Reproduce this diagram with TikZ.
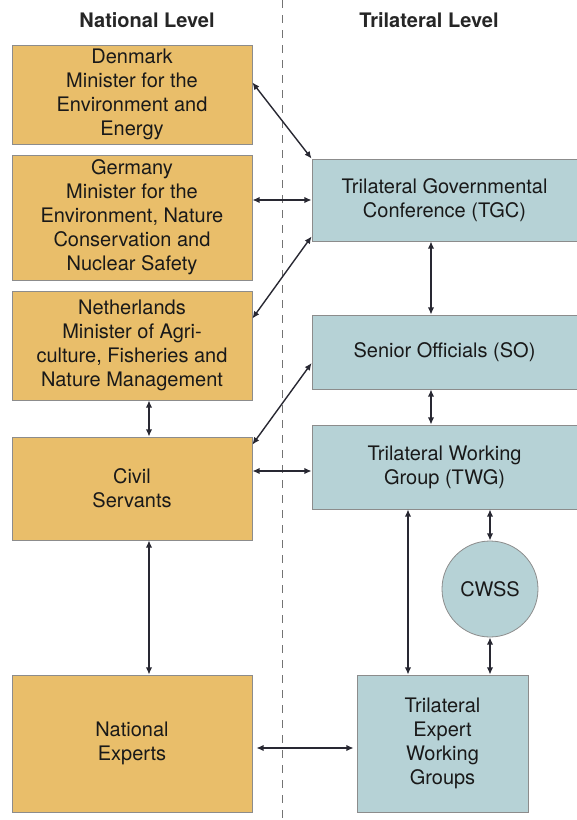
\documentclass[tikz,border=0pt]{standalone}
\usepackage{fontspec}
\setmainfont{TeX Gyre Heros}
\usepackage{tikz}
\usetikzlibrary{arrows.meta,calc}
\usepackage{xcolor}
\definecolor{natfill}{RGB}{233,190,106}
\definecolor{trifill}{RGB}{182,210,214}
\definecolor{linkgray}{RGB}{40,40,50}

\begin{document}
\begin{tikzpicture}[x=0.5pt, y=-0.5pt,
        box/.style = {draw=black!45, line width=0.4pt, align=center, inner sep=0pt,
            font=\fontsize{10}{12}\selectfont, text=black!90},
        natbox/.style = {box, fill=natfill, minimum width=120pt},
        tribox/.style = {box, fill=trifill},
        head/.style = {font=\fontsize{10}{12}\selectfont\bfseries, text=black!85},
        link/.style = {{Latex[length=3.6pt,width=3.2pt]}-{Latex[length=3.6pt,width=3.2pt]},
            line width=0.7pt, draw=linkgray}]
        \useasboundingbox (0,0) rectangle (577,820);

        % Headings and divider
        \node[head] (nathead) at (147,20) {National Level};
        \node[head] (trihead) at (429,20) {Trilateral Level};
        \coordinate (dtop) at (282,0);
        \coordinate (dbot) at (282,820);
        \draw[black!55, line width=0.5pt, dash pattern=on 4pt off 3.5pt] (dtop) -- (dbot);

        % National level
        \node[natbox, minimum height=49.5pt] (denmark) at (132,94.5)
            {Denmark\\Minister for the\\Environment and\\Energy};
        \node[natbox, minimum height=62.5pt] (germany) at (132,217.5)
            {Germany\\Minister for the\\Environment, Nature\\Conservation and\\Nuclear Safety};
        \node[natbox, minimum height=54.5pt] (netherlands) at (132,345.5)
            {Netherlands\\Minister of Agri-\\culture, Fisheries and\\Nature Management};
        \node[natbox, minimum height=51.5pt] (civil) at (132,488.5) {Civil\\Servants};
        \node[natbox, minimum height=68.5pt] (experts) at (132,743.5) {National\\Experts};

        % Trilateral level
        \node[tribox, minimum width=132.5pt, minimum height=41pt] (tgc) at (444.5,200)
            {Trilateral Governmental\\Conference (TGC)};
        \node[tribox, minimum width=132.5pt, minimum height=37pt] (so) at (444.5,352)
            {Senior Officials (SO)};
        \node[tribox, minimum width=132.5pt, minimum height=42pt] (twg) at (444.5,467)
            {Trilateral Working\\Group (TWG)};
        \node[tribox, circle, minimum size=48pt] (cwss) at (490,589) {CWSS};
        \node[tribox, minimum width=85.5pt, minimum height=68.5pt] (tewg) at (442.5,743.5)
            {Trilateral\\Expert\\Working\\Groups};

        % Links across
        \draw[link] ($(denmark.east)+(0,-12)$) -- (tgc.north west);
        \draw[link] (germany.east |- tgc.west) -- (tgc.west);
        \draw[link] ($(netherlands.east)+(0,-27)$) -- ($(tgc.south west)+(0,-5)$);
        \draw[link] ($(civil.north east)+(0,8)$) -- ($(so.west)+(0,11)$);
        \coordinate (cross) at ($(twg.west)+(0,4)$);
        \draw[link] (civil.east |- cross) -- (cross);
        \coordinate (lowcross) at (0,748);
        \draw[link, shorten <=2pt, shorten >=1.5pt] (experts.east |- lowcross) -- (tewg.west |- lowcross);

        % Links down
        \coordinate (lcol) at (149,0);
        \coordinate (rcol) at (431,0);
        \coordinate (ecol) at (408,0);
        \draw[link] (netherlands.south -| lcol) -- (civil.north -| lcol);
        \draw[link] (civil.south -| lcol) -- (experts.north -| lcol);
        \draw[link] (tgc.south -| rcol) -- (so.north -| rcol);
        \draw[link] (so.south -| rcol) -- (twg.north -| rcol);
        \draw[link] (twg.south -| ecol) -- (tewg.north -| ecol);
        \draw[link] (twg.south -| cwss.north) -- (cwss.north);
        \draw[link] (cwss.south) -- (tewg.north -| cwss.south);
    \end{tikzpicture}
\end{document}
